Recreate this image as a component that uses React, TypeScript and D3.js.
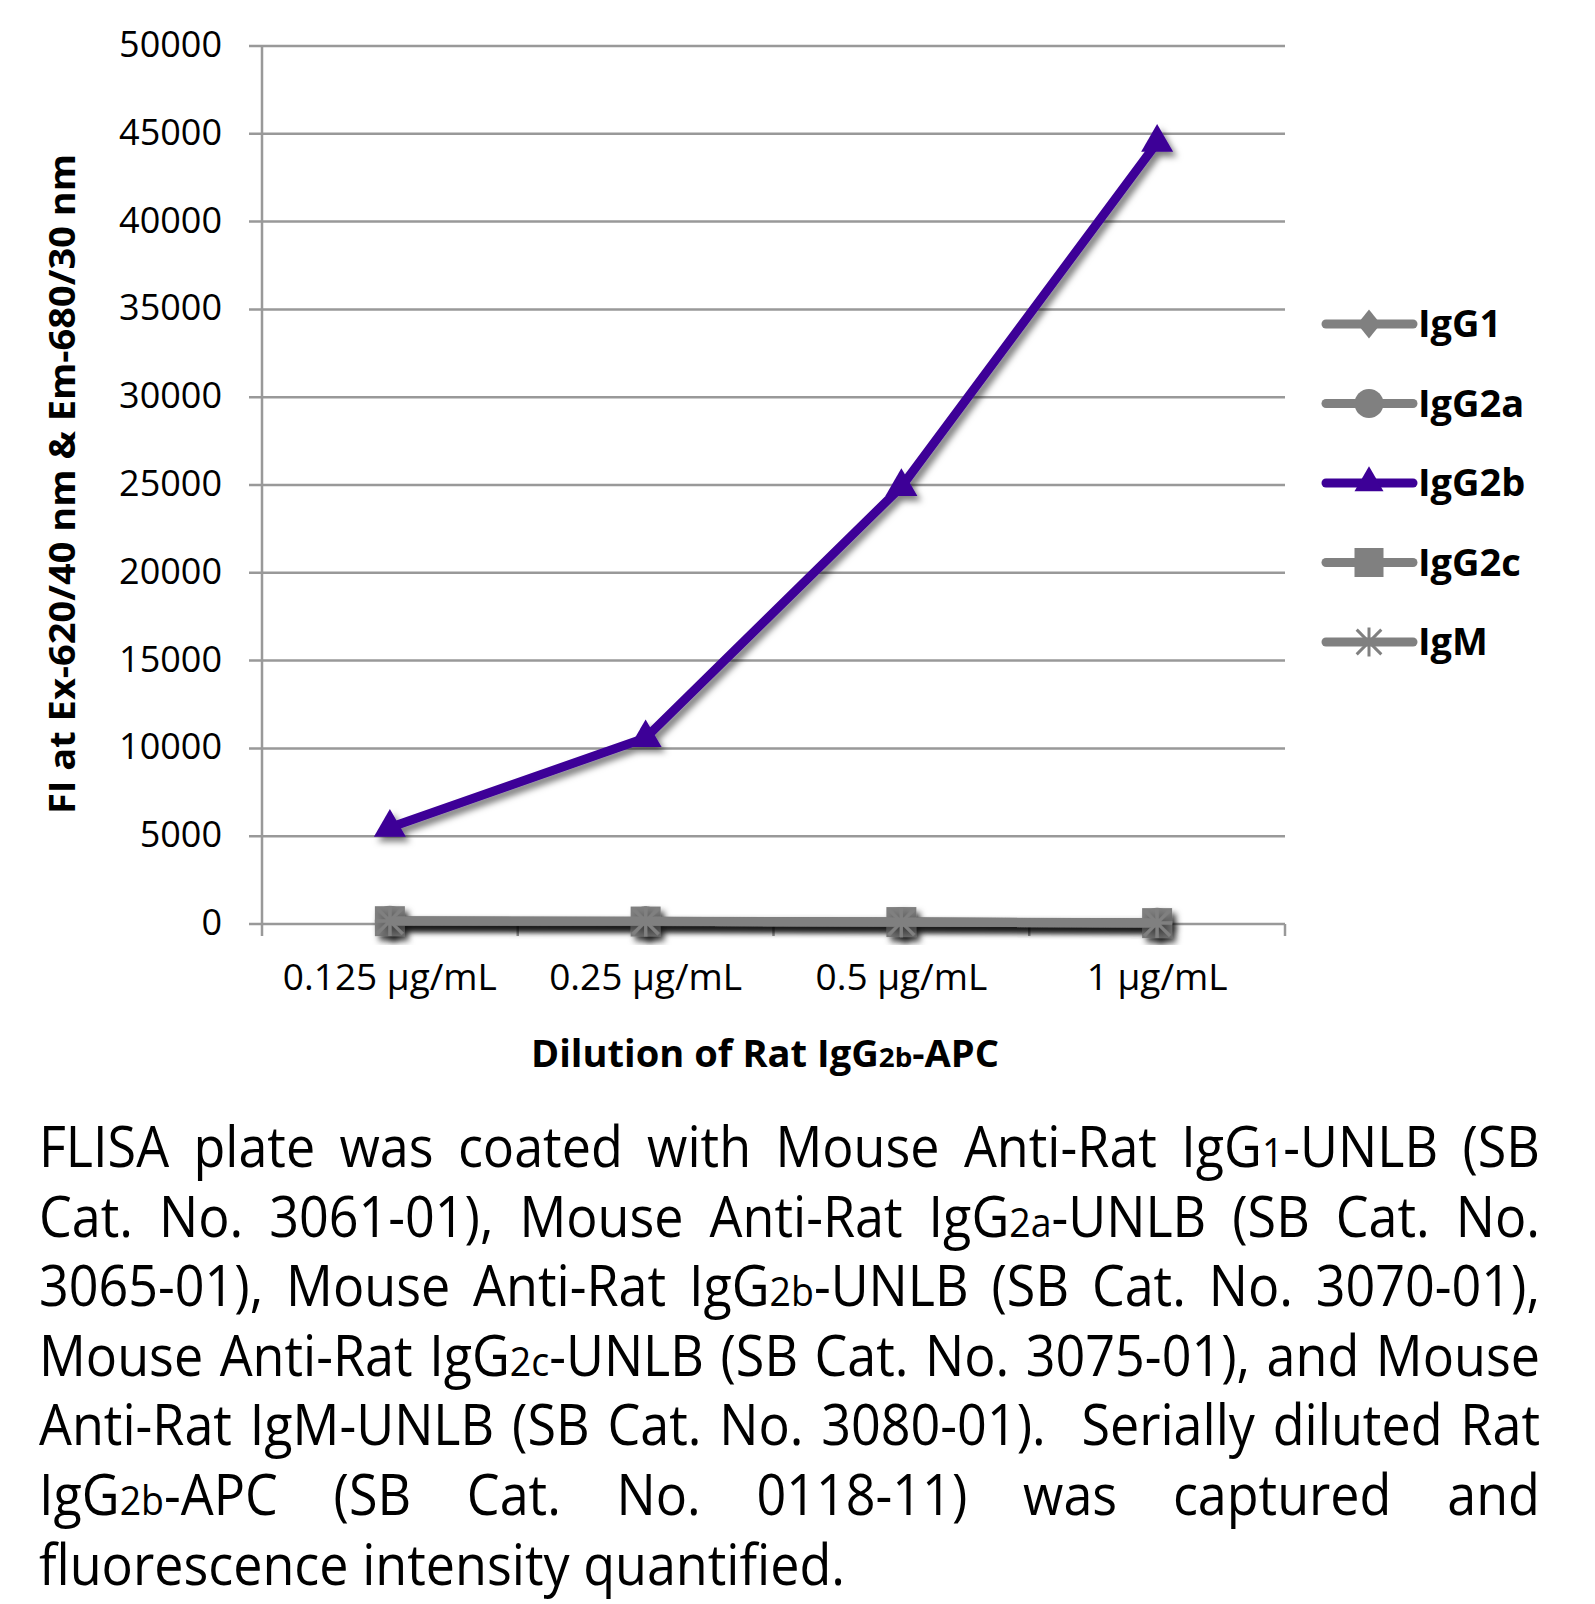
import React, { useMemo } from 'react';
import * as d3 from 'd3';

const categories = ['0.125 μg/mL', '0.25 μg/mL', '0.5 μg/mL', '1 μg/mL'];
const seriesNames = ['IgG1', 'IgG2a', 'IgG2b', 'IgG2c', 'IgM'];
const igG1Values = [150, 130, 110, 60];
const igG2aValues = [180, 150, 120, 70];
const igG2bValues = [5500, 10600, 24900, 44500];
const igG2cValues = [160, 140, 110, 50];
const igMValues = [170, 150, 100, 60];
const seriesValues = [igG1Values, igG2aValues, igG2bValues, igG2cValues, igMValues];
const seriesColors = ['#808080', '#808080', '#3d0097', '#808080', '#808080'];
const markerTypes = ['diamond', 'circle', 'triangle', 'square', 'star'];
const yTicks = [0, 5000, 10000, 15000, 20000, 25000, 30000, 35000, 40000, 45000, 50000];

const yTitle = 'FI at Ex-620/40 nm & Em-680/30 nm';
const captionLines = [
  'FLISA plate was coated with Mouse Anti-Rat IgG{1}-UNLB (SB',
  'Cat. No. 3061-01), Mouse Anti-Rat IgG{2a}-UNLB (SB Cat. No.',
  '3065-01), Mouse Anti-Rat IgG{2b}-UNLB (SB Cat. No. 3070-01),',
  'Mouse Anti-Rat IgG{2c}-UNLB (SB Cat. No. 3075-01), and Mouse',
  'Anti-Rat IgM-UNLB (SB Cat. No. 3080-01).  Serially diluted Rat',
  'IgG{2b}-APC (SB Cat. No. 0118-11) was captured and',
  'fluorescence intensity quantified.',
];

const FONT = '"Open Sans", "Noto Sans", sans-serif';

type Run = { t: string; small: boolean };
function parseRuns(word: string): Run[] {
  const runs: Run[] = [];
  const re = /\{([^}]*)\}|([^{]+)/g;
  let m;
  while ((m = re.exec(word))) {
    if (m[1] !== undefined) runs.push({ t: m[1], small: true });
    else runs.push({ t: m[2], small: false });
  }
  return runs;
}

function Marker({ type, x, y, s, color }: { type: string; x: number; y: number; s: number; color: string }) {
  if (type === 'diamond') {
    const p = d3.path();
    p.moveTo(x, y - s * 0.5);
    p.lineTo(x + s * 0.4, y);
    p.lineTo(x, y + s * 0.5);
    p.lineTo(x - s * 0.4, y);
    p.closePath();
    return <path d={p.toString()} fill={color} />;
  }
  if (type === 'circle') return <circle cx={x} cy={y} r={s / 2} fill={color} />;
  if (type === 'square') return <rect x={x - s / 2} y={y - s / 2} width={s} height={s} fill={color} />;
  if (type === 'triangle') {
    const d = d3.symbol(d3.symbolTriangle, (Math.sqrt(3) / 4) * s * s)();
    return <path d={d || ''} transform={`translate(${x},${y})`} fill={color} />;
  }
  const h = s / 2;
  const dd = h * 0.85;
  return (
    <g stroke={color} strokeWidth={3} strokeLinecap="butt">
      <line x1={x} y1={y - h} x2={x} y2={y + h} />
      <line x1={x - dd} y1={y - dd} x2={x + dd} y2={y + dd} />
      <line x1={x - dd} y1={y + dd} x2={x + dd} y2={y - dd} />
      <line x1={x - h} y1={y} x2={x + h} y2={y} />
    </g>
  );
}

export default function App() {
  const W = 1595;
  const H = 1604;
  const x = d3.scaleBand<string>().domain(categories).range([262, 1285]).padding(0);
  const y = d3.scaleLinear().domain([0, 50000]).range([924, 46]);
  const cx = (c: string) => (x(c) as number) + x.bandwidth() / 2;
  const line = d3
    .line<number>()
    .x((_, i) => cx(categories[i]))
    .y((v) => y(v));

  const caption = useMemo(() => {
    const canvas = document.createElement('canvas');
    const ctx = canvas.getContext('2d')!;
    const size = 57;
    const smallSize = 41;
    const meas = (t: string, s: number) => {
      ctx.font = `${s}px "Open Sans"`;
      return ctx.measureText(t).width;
    };
    const left = 39;
    const right = 1540;
    const lastTarget = 806;
    const lines = captionLines.map((ln) => {
      const parts = ln.split(/( +)/);
      const words: { runs: Run[]; w: number; gapBefore: number }[] = [];
      let pendingGap = 0;
      parts.forEach((p) => {
        if (/^ +$/.test(p)) {
          pendingGap = p.length;
        } else if (p.length) {
          const runs = parseRuns(p);
          const w = runs.reduce((a, r) => a + meas(r.t, r.small ? smallSize : size), 0);
          words.push({ runs, w, gapBefore: pendingGap });
          pendingGap = 0;
        }
      });
      return words;
    });
    const spaceW = meas(' ', size);
    const last = lines[lines.length - 1];
    const lastNat = last.reduce((a, w) => a + w.w, 0) + spaceW * (last.length - 1);
    const f = lastTarget / lastNat;
    const out: { runs: Run[]; x: number; y: number; f: number }[] = [];
    lines.forEach((words, li) => {
      const yy = 1167 + li * 69.6;
      const total = words.reduce((a, w) => a + w.w * f, 0);
      const isLast = li === lines.length - 1;
      const gapUnits = words.slice(1).reduce((a, w) => a + w.gapBefore, 0);
      const unit = isLast ? spaceW * f : (right - left - total) / gapUnits;
      let xx = left;
      words.forEach((w, wi) => {
        if (wi > 0) xx += unit * w.gapBefore;
        out.push({ runs: w.runs, x: xx, y: yy, f });
        xx += w.w * f;
      });
    });
    return { out, size, smallSize };
  }, []);

  return (
    <svg width={W} height={H} style={{ position: 'absolute', left: 0, top: 0, background: '#fff' }} fontFamily={FONT}>
      <defs>
        <filter id="shadow" x="-20%" y="-20%" width="140%" height="140%">
          <feDropShadow dx={4} dy={5} stdDeviation={3} floodColor="#000" floodOpacity={0.5} />
        </filter>
      </defs>
      <rect x={0} y={0} width={W} height={H} fill="#fff" />
      {yTicks.map((t) => (
        <g key={t}>
          <line x1={249} x2={1285} y1={y(t)} y2={y(t)} stroke="#999" strokeWidth={2.5} />
          <text x={222} y={y(t) + 11} textAnchor="end" fontSize={36} fill="#000">
            {t}
          </text>
        </g>
      ))}
      <line x1={262} x2={262} y1={y(50000)} y2={936} stroke="#999" strokeWidth={2.5} />
      {categories.map((c) => (
        <line key={c} x1={(x(c) as number) + x.bandwidth()} x2={(x(c) as number) + x.bandwidth()} y1={924} y2={936} stroke="#999" strokeWidth={2.5} />
      ))}
      {categories.map((c) => (
        <text key={c} x={cx(c)} y={990} textAnchor="middle" fontSize={37} fill="#000">
          {c}
        </text>
      ))}
      {seriesValues.map((vals, si) => (
        <g key={seriesNames[si]} filter="url(#shadow)">
          <path d={line(vals) || ''} fill="none" stroke={seriesColors[si]} strokeWidth={9} strokeLinejoin="round" strokeLinecap="round" />
          {vals.map((v, i) => (
            <Marker key={i} type={markerTypes[si]} x={cx(categories[i])} y={y(v)} s={markerTypes[si] === 'triangle' ? 32 : 30} color={seriesColors[si]} />
          ))}
        </g>
      ))}
      {seriesNames.map((n, i) => {
        const ly = 324 + i * 79.5;
        return (
          <g key={n}>
            <line x1={1326} x2={1413} y1={ly} y2={ly} stroke={seriesColors[i]} strokeWidth={9} strokeLinecap="round" />
            <Marker type={markerTypes[i]} x={1369} y={ly} s={29} color={seriesColors[i]} />
            <text x={1418} y={ly + 13} fontSize={38} fontWeight="bold" fill="#000">
              {n}
            </text>
          </g>
        );
      })}
      <text transform="translate(75,484) rotate(-90)" textAnchor="middle" fontSize={35} fontWeight="bold" fill="#000" textLength={660} lengthAdjust="spacingAndGlyphs">
        {yTitle}
      </text>
      <text x={765} y={1067} textAnchor="middle" fontSize={37} fontWeight="bold" fill="#000" textLength={468} lengthAdjust="spacingAndGlyphs">
        Dilution of Rat IgG<tspan fontSize={27}>2b</tspan>-APC
      </text>
      {caption.out.map((w, i) => (
        <g key={i} transform={`translate(${w.x},${w.y}) scale(${w.f},1)`}>
          <text x={0} y={0} fontSize={caption.size} fill="#000">
            {w.runs.map((r, ri) => (
              <tspan key={ri} fontSize={r.small ? caption.smallSize : caption.size}>
                {r.t}
              </tspan>
            ))}
          </text>
        </g>
      ))}
    </svg>
  );
}
